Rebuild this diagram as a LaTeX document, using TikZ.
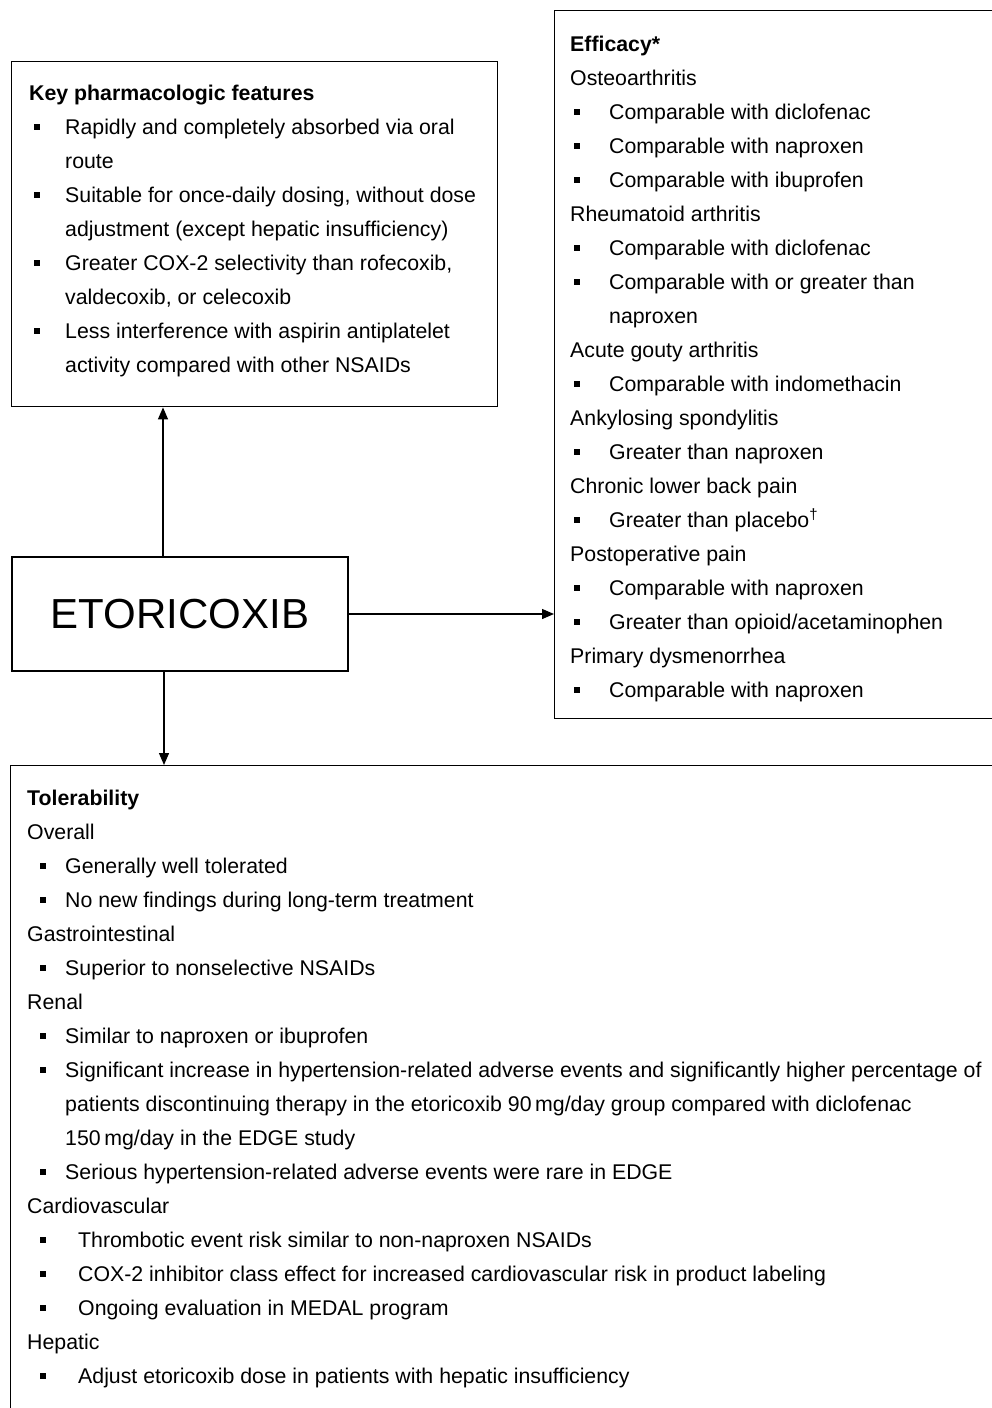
\documentclass[tikz,border=0pt]{standalone}
\usepackage{fontspec}
\setmainfont{Liberation Sans}
\usetikzlibrary{arrows.meta}
\newcommand\fs{\fontsize{21.3pt}{24pt}\selectfont}
\newcommand\BL[5]{\node[bul] (#1b) at (#2,#4-7) {};\node[txt] (#1) at (#3,#4) {#5};}
\tikzset{
  box/.style={draw, line width=1.4pt, inner sep=0pt, anchor=north west},
  txt/.style={anchor=base west, inner sep=0pt, font=\fs},
  hdr/.style={txt, font=\fs\bfseries},
  bul/.style={fill=black, draw=none, minimum size=6pt, inner sep=0pt},
  arr/.style={-{Triangle[length=12pt,width=10pt]}, line width=1.3pt}
}
\begin{document}
\begin{tikzpicture}[x=1pt,y=-1pt]
\useasboundingbox (0,0) rectangle (992,1408);
\clip (0,0) rectangle (992,1408);
\fill[white] (0,0) rectangle (992,1408);
% boxes
\node[box, minimum width=486pt, minimum height=345pt] (key) at (11,61) {};
\node[box, minimum width=520pt, minimum height=708pt] (eff) at (554,10) {};
\node[box, minimum width=1050pt, minimum height=720pt] (tol) at (10,765) {};
\node[draw, line width=1.4pt, minimum width=336pt, minimum height=114pt, inner sep=0pt, font=\fontsize{42pt}{48pt}\selectfont] (etor) at (180,614) {ETORICOXIB};
% connectors
\coordinate (ux) at (163,0);
\coordinate (dx) at (164,0);
\draw[arr] (etor.north -| ux) -- (key.south -| ux);
\draw[arr] (etor.east) -- (eff.west |- etor.east);
\draw[arr] (etor.south -| dx) -- (tol.north -| dx);
% key features
\node[hdr] (kh) at (29,100) {Key pharmacologic features};
\BL{k1}{37}{65}{134}{Rapidly and completely absorbed via oral}
\node[txt] (k2) at (65,168) {route};
\BL{k3}{37}{65}{202}{Suitable for once-daily dosing, without dose}
\node[txt] (k4) at (65,236) {adjustment (except hepatic insufficiency)};
\BL{k5}{37}{65}{270}{Greater COX-2 selectivity than rofecoxib,}
\node[txt] (k6) at (65,304) {valdecoxib, or celecoxib};
\BL{k7}{37}{65}{338}{Less interference with aspirin antiplatelet}
\node[txt] (k8) at (65,372) {activity compared with other NSAIDs};
% efficacy
\node[hdr] (eh) at (570,51) {Efficacy*};
\node[txt] (e1) at (570,85) {Osteoarthritis};
\BL{e2}{577}{609}{119}{Comparable with diclofenac}
\BL{e3}{577}{609}{153}{Comparable with naproxen}
\BL{e4}{577}{609}{187}{Comparable with ibuprofen}
\node[txt] (e5) at (570,221) {Rheumatoid arthritis};
\BL{e6}{577}{609}{255}{Comparable with diclofenac}
\BL{e7}{577}{609}{289}{Comparable with or greater than}
\node[txt] (e8) at (609,323) {naproxen};
\node[txt] (e9) at (570,357) {Acute gouty arthritis};
\BL{e10}{577}{609}{391}{Comparable with indomethacin}
\node[txt] (e11) at (570,425) {Ankylosing spondylitis};
\BL{e12}{577}{609}{459}{Greater than naproxen}
\node[txt] (e13) at (570,493) {Chronic lower back pain};
\BL{e14}{577}{609}{527}{Greater than placebo\textsuperscript{\textdagger}}
\node[txt] (e15) at (570,561) {Postoperative pain};
\BL{e16}{577}{609}{595}{Comparable with naproxen}
\BL{e17}{577}{609}{629}{Greater than opioid/acetaminophen}
\node[txt] (e18) at (570,663) {Primary dysmenorrhea};
\BL{e19}{577}{609}{697}{Comparable with naproxen}
% tolerability
\node[hdr] (th) at (27,805) {Tolerability};
\node[txt] (t1) at (27,839) {Overall};
\BL{t2}{43}{65}{873}{Generally well tolerated}
\BL{t3}{43}{65}{907}{No new findings during long-term treatment}
\node[txt] (t4) at (27,941) {Gastrointestinal};
\BL{t5}{43}{65}{975}{Superior to nonselective NSAIDs}
\node[txt] (t6) at (27,1009) {Renal};
\BL{t7}{43}{65}{1043}{Similar to naproxen or ibuprofen}
\BL{t8}{43}{65}{1077}{Significant increase in hypertension-related adverse events and significantly higher percentage of}
\node[txt] (t9) at (65,1111) {patients discontinuing therapy in the etoricoxib 90\,mg/day group compared with diclofenac};
\node[txt] (t10) at (65,1145) {150\,mg/day in the EDGE study};
\BL{t11}{43}{65}{1179}{Serious hypertension-related adverse events were rare in EDGE}
\node[txt] (t12) at (27,1213) {Cardiovascular};
\BL{t13}{43}{78}{1247}{Thrombotic event risk similar to non-naproxen NSAIDs}
\BL{t14}{43}{78}{1281}{COX-2 inhibitor class effect for increased cardiovascular risk in product labeling}
\BL{t15}{43}{78}{1315}{Ongoing evaluation in MEDAL program}
\node[txt] (t16) at (27,1349) {Hepatic};
\BL{t17}{43}{78}{1383}{Adjust etoricoxib dose in patients with hepatic insufficiency}
\end{tikzpicture}
\end{document}
